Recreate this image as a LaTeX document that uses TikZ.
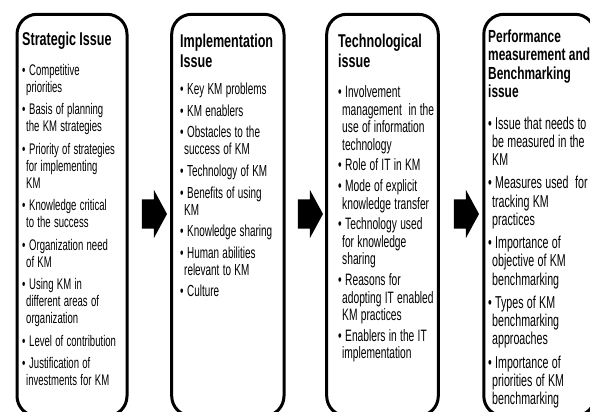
\documentclass[tikz,border=0pt]{standalone}
\usepackage{fontspec}
\newfontfamily\kmfont[FakeStretch=0.68]{Liberation Sans}
\newfontfamily\kmitemfont[FakeStretch=0.62]{Liberation Sans}
\usetikzlibrary{shapes.arrows}

\newcommand{\kmitem}[1]{\par\noindent\hangindent=4pt\hangafter=1\makebox[7pt][l]{\textbullet}#1\par}

\tikzset{
  kmbox/.style={line width=3pt,rounded corners=20pt},
  kmtext/.style={anchor=north west,inner sep=0pt,text width=130pt,font=\kmfont},
  kmarrow/.style={single arrow,fill=black,inner xsep=0pt,inner ysep=14.5pt,
    minimum height=25pt,single arrow head extend=9.5pt,single arrow tip angle=123}
}

\begin{document}
\begin{tikzpicture}[x=1pt,y=-1pt]
    \useasboundingbox (0,0) rectangle (590,412);
    \clip (0,0) rectangle (590,412);
    \draw[kmbox] ( 17,14.3) rectangle (127,416);
    \draw[kmbox] (171.7,14.3) rectangle (284,416);
    \draw[kmbox] (326.7,14.3) rectangle (438.3,416);
    \draw[kmbox] (483.8,14.3) rectangle (595,416);
    %
    \node[kmarrow] (arrowA) at (150.5,214) {};
    \node[kmarrow] (arrowB) at (306.5,214) {};
    \node[kmarrow] (arrowC) at (462.5,214) {};
    %
    \node[kmtext] (strategic) at (22,31) {%
      {\bfseries\fontsize{18.5}{20}\selectfont\strut Strategic Issue\par}
      \vspace{6.5pt}
      \kmitemfont\fontsize{15.4}{17}\selectfont\setlength{\parskip}{5.5pt}
      \kmitem{Competitive\newline priorities}
      \kmitem{Basis of planning\newline the KM strategies}
      \kmitem{Priority of strategies\newline for implementing\newline KM}
      \kmitem{Knowledge critical\newline to the success}
      \kmitem{Organization need\newline of KM}
      \kmitem{Using KM in\newline different areas of\newline organization}
      \kmitem{Level of contribution}
      \kmitem{Justification of\newline investments for KM}};
    \node[kmtext] (implementation) at (180,33) {%
      {\bfseries\fontsize{18.5}{20}\selectfont\strut Implementation\newline Issue\par}
      \vspace{6pt}
      \kmitemfont\fontsize{16}{17}\selectfont\setlength{\parskip}{4.6pt}
      \kmitem{Key KM problems}
      \kmitem{KM enablers}
      \kmitem{Obstacles to the\newline success of KM}
      \kmitem{Technology of KM}
      \kmitem{Benefits of using\newline KM}
      \kmitem{Knowledge sharing}
      \kmitem{Human abilities\newline relevant to KM}
      \kmitem{Culture}};
    \node[kmtext] (technological) at (338,33) {%
      {\bfseries\fontsize{18.5}{20}\selectfont\strut Technological\newline issue\par}
      \vspace{9.8pt}
      \kmitemfont\fontsize{16.5}{17.6}\selectfont\setlength{\parskip}{3pt}
      \kmitem{Involvement\newline management~ in the\newline use of information\newline technology}
      \kmitem{Role of IT in KM}
      \kmitem{Mode of explicit\newline knowledge transfer}
      \kmitem{Technology used\newline for knowledge\newline sharing}
      \kmitem{Reasons for\newline adopting IT enabled\newline KM practices}
      \kmitem{Enablers in the IT\newline implementation}};
    \node[kmtext] (performance) at (488,29) {%
      {\bfseries\fontsize{17.5}{18.5}\selectfont\strut Performance\newline measurement and\newline Benchmarking\newline issue\par}
      \vspace{8.5pt}
      \kmitemfont\fontsize{17.2}{18.3}\selectfont\setlength{\parskip}{4.8pt}
      \kmitem{Issue that needs to\newline be measured in the\newline KM}
      \kmitem{Measures used~ for\newline tracking KM\newline practices}
      \kmitem{Importance of\newline objective of KM\newline benchmarking}
      \kmitem{Types of KM\newline benchmarking\newline approaches}
      \kmitem{Importance of\newline priorities of KM\newline benchmarking}};
\end{tikzpicture}
\end{document}
